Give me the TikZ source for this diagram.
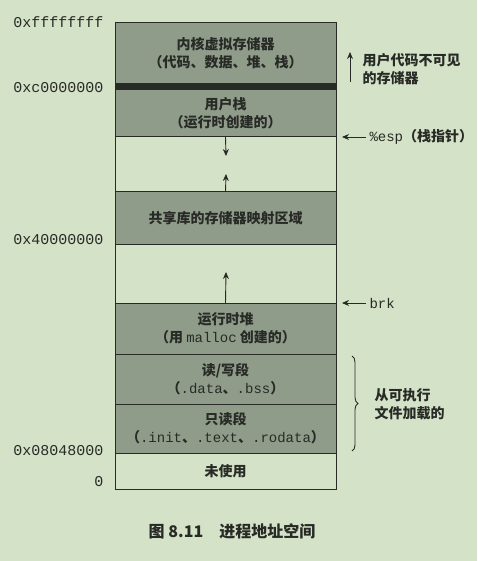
\documentclass[tikz,border=0pt]{standalone}
\usepackage{fontspec}
\setmonofont{Liberation Mono}
\newfontfamily\cjk{Noto Sans CJK SC}
\usetikzlibrary{positioning,arrows.meta,decorations.pathreplacing}
\definecolor{paper}{RGB}{212,226,199}
\definecolor{segfill}{RGB}{143,156,138}
\definecolor{ink}{RGB}{40,42,38}
\newcommand{\mono}[1]{{\ttfamily\mdseries #1}}

\begin{document}
\begin{tikzpicture}[x=1pt,y=-1pt,font=\cjk\bfseries\fontsize{14}{18}\selectfont,text=ink,
  seg/.style={draw=ink,line width=1pt,fill=segfill,minimum width=221pt,inner sep=0pt,outer sep=0pt,align=center},
  hole/.style={seg,fill=paper},
  addr/.style={anchor=east,font=\ttfamily\fontsize{15}{15}\selectfont},
  ptr/.style={-{Stealth[length=7pt,width=6pt]},line width=0.9pt,draw=ink}]
\useasboundingbox[fill=paper] (0,0) rectangle (477,561);
% segments, top down
\node[seg,anchor=north west,minimum height=61pt] (kern) at (115,23) {内核虚拟存储器\\（代码、数据、堆、栈）};
\node[seg,fill=ink,minimum height=6pt,below=0pt of kern] (band) {};
\node[seg,minimum height=47pt,below=0pt of band] (ustack) {用户栈\\（运行时创建的）};
\node[hole,minimum height=55pt,below=0pt of ustack] (gapa) {};
\node[seg,minimum height=52pt,below=0pt of gapa] (shlib) {共享库的存储器映射区域};
\node[hole,minimum height=59pt,below=0pt of shlib] (gapb) {};
\node[seg,minimum height=51pt,below=0pt of gapb] (heap) {运行时堆\\（用 \mono{malloc} 创建的）};
\node[seg,minimum height=50pt,below=0pt of heap] (rwseg) {读/写段\\（\mono{.data}、\mono{.bss}）};
\node[seg,minimum height=49pt,below=0pt of rwseg] (roseg) {只读段\\（\mono{.init}、\mono{.text}、\mono{.rodata}）};
\node[hole,minimum height=36pt,below=0pt of roseg] (unused) {未使用};

% addresses
\foreach \y/\lab in {22/0xffffffff,88/0xc0000000,240/0x40000000,451/0x08048000,482/0}
  \node[addr] (a\y) at (107,\y) {\lab};

% growth arrows
\coordinate (stackend) at (226,156);
\coordinate (libend) at (226,174);
\coordinate (heapend) at (226,272);
\draw[ptr] (ustack.south) -- (stackend);
\draw[ptr] (shlib.north) -- (libend);
\draw[ptr] (heap.north) -- (heapend);

% right side notes
\node[anchor=west,align=left] (hidden) at (359,69) {用户代码不可见\\的存储器};
\coordinate (hidbot) at (350,82);
\coordinate (hidtop) at (350,52);
\draw[ptr] (hidbot) -- (hidtop);
\node[anchor=west] (esp) at (366,137) {\mono{\%esp}（栈指针）};
\coordinate (espend) at (342,137);
\draw[ptr] (esp.west) -- (espend);
\node[anchor=west] (brk) at (366,303) {\mono{brk}};
\coordinate (brkend) at (342,303);
\draw[ptr] (brk.west) -- (brkend);
\draw[decorate,decoration={brace,amplitude=6pt},line width=0.9pt,draw=ink]
  ([xshift=16pt,yshift=-2pt]rwseg.north east) -- ([xshift=16pt,yshift=2pt]roseg.south east);
\node[anchor=west,align=left] (loaded) at ([xshift=35pt]rwseg.south east) {从可执行\\文件加载的};

\node[font=\cjk\bfseries\fontsize{16}{16}\selectfont] (cap) at (232,531) {图 8.11\quad 进程地址空间};
\end{tikzpicture}
\end{document}
